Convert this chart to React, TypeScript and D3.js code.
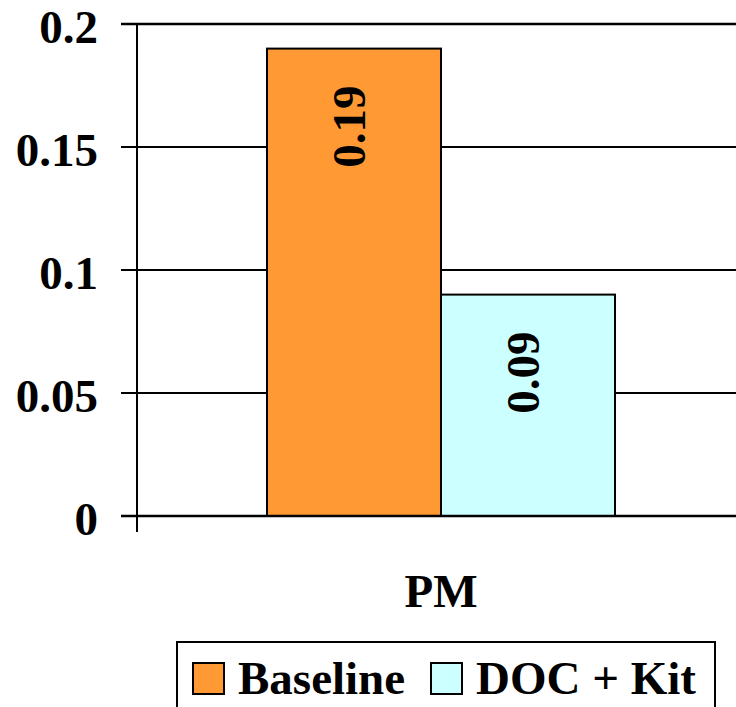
import React from "react";
import * as d3 from "d3";

const categories = ["PM"];
const seriesNames = ["Baseline", "DOC + Kit"];
const seriesValues = [[0.19], [0.09]];
const valueLabels = [["0.19"], ["0.09"]];
const yTicks = [0, 0.05, 0.1, 0.15, 0.2];
const yTickLabels = ["0", "0.05", "0.1", "0.15", "0.2"];
const colors = ["#FF9933", "#CCFFFF"];

const W = 736;
const H = 707;
const FONT = "Liberation Serif, Times New Roman, DejaVu Serif, serif";
const FS = 47;

export default function App() {
  const left = 137;
  const right = 745;
  const top = 24;
  const bottom = 516;

  const y = d3.scaleLinear().domain([0, 0.2]).range([bottom, top]);
  const x0 = d3.scaleBand<string>().domain(categories).range([left, right]).paddingInner(0).paddingOuter(0.3736);
  const x1 = d3.scaleBand<string>().domain(seriesNames).range([0, x0.bandwidth()]).padding(0);

  const ts: React.CSSProperties = { fontFamily: FONT, fontWeight: "bold", fontSize: FS };

  return (
    <svg width={W} height={H} style={{ position: "absolute", left: 0, top: 0, background: "#fff" }}>
      <rect x={0} y={0} width={W} height={H} fill="#fff" />
      {yTicks.map((t, i) => (
        <line key={"g" + i} x1={left - 16} x2={right} y1={y(t)} y2={y(t)} stroke="#000" strokeWidth={i === yTicks.length - 1 ? 2.5 : 2} />
      ))}
      <line x1={left} x2={left} y1={top} y2={bottom + 16} stroke="#000" strokeWidth={2} />
      {yTicks.map((t, i) => (
        <text key={"t" + i} x={98} y={y(t) + 19} textAnchor="end" style={ts} fill="#000">
          {yTickLabels[i]}
        </text>
      ))}
      {categories.map((c, ci) =>
        seriesNames.map((s, si) => {
          const bx = (x0(c) as number) + (x1(s) as number);
          const bw = x1.bandwidth();
          const v = seriesValues[si][ci];
          const by = y(v);
          const cx = bx + bw / 2;
          return (
            <g key={c + s}>
              <rect x={bx} y={by} width={bw} height={bottom - by} fill={colors[si]} stroke="#000" strokeWidth={2} />
              <text
                transform={`translate(${cx + 11},${by + 37}) rotate(-90)`}
                textAnchor="end"
                style={ts}
                fill="#000"
              >
                {valueLabels[si][ci]}
              </text>
            </g>
          );
        })
      )}
      <line x1={left - 16} x2={right} y1={bottom} y2={bottom} stroke="#000" strokeWidth={2.5} />
      {categories.map((c) => (
        <text key={c} x={(x0(c) as number) + x0.bandwidth() / 2} y={607} textAnchor="middle" style={ts} fill="#000">
          {c}
        </text>
      ))}
      <rect x={177} y={642} width={538} height={80} fill="#fff" stroke="#000" strokeWidth={2} />
      <rect x={193} y={663} width={31} height={31} fill={colors[0]} stroke="#000" strokeWidth={2} />
      <text x={238} y={694} style={ts} fill="#000">{seriesNames[0]}</text>
      <rect x={431} y={663} width={31} height={31} fill={colors[1]} stroke="#000" strokeWidth={2} />
      <text x={476} y={694} style={ts} fill="#000">{seriesNames[1]}</text>
    </svg>
  );
}
